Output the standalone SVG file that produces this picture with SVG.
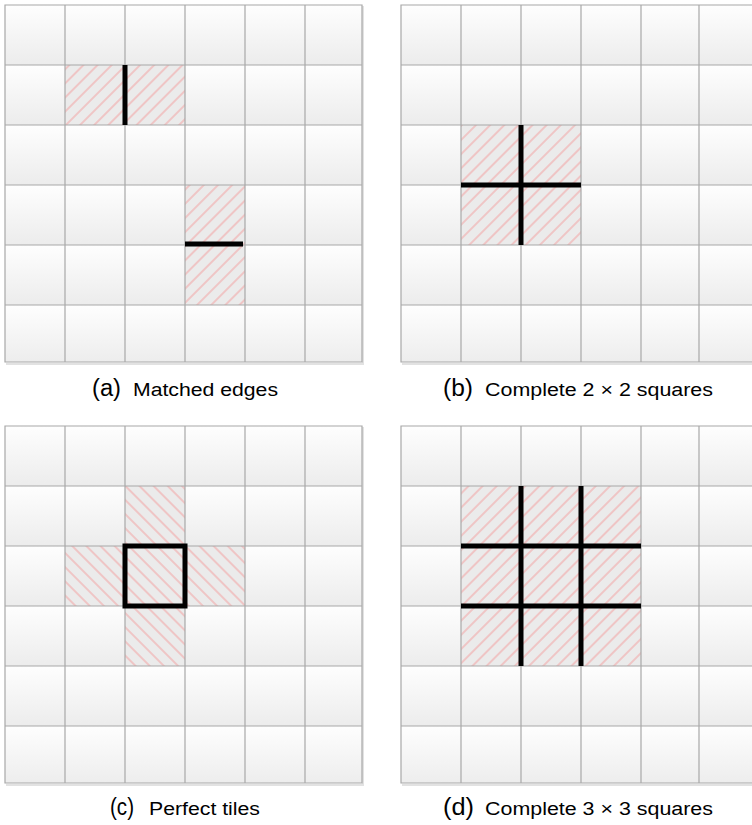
<svg xmlns="http://www.w3.org/2000/svg" width="752" height="825" viewBox="0 0 752 825">
<style>
.grid{fill:none;stroke:#a8a8a8;stroke-width:1.2}
.blk{stroke:#000;stroke-width:5;fill:none}
.lab{font-family:"Liberation Sans",Arial,sans-serif;fill:#000}
.big{font-size:23px}
.sm{font-size:18px}
.hat{fill:url(#hatR)}
.hatL{fill:url(#hatL)}
.shadow{fill:none;stroke:#e2e2e2;stroke-width:2}
</style>
<defs>
<linearGradient id="cg" x1="0" y1="0" x2="0" y2="1">
<stop offset="0" stop-color="#fefefe"/>
<stop offset="1" stop-color="#ececec"/>
</linearGradient>
<pattern id="cellA" patternUnits="userSpaceOnUse" x="5" y="5" width="60" height="60">
<rect width="60" height="60" fill="url(#cg)"/>
</pattern>
<pattern id="cellB" patternUnits="userSpaceOnUse" x="401" y="5" width="60" height="60">
<rect width="60" height="60" fill="url(#cg)"/>
</pattern>
<pattern id="cellC" patternUnits="userSpaceOnUse" x="5" y="426" width="60" height="60">
<rect width="60" height="60" fill="url(#cg)"/>
</pattern>
<pattern id="cellD" patternUnits="userSpaceOnUse" x="401" y="426" width="60" height="60">
<rect width="60" height="60" fill="url(#cg)"/>
</pattern>
<pattern id="hatR" patternUnits="userSpaceOnUse" width="10" height="10" patternTransform="rotate(45)">
<rect width="10" height="10" fill="#ebebeb"/>
<line x1="5" y1="0" x2="5" y2="10" stroke="#f4a0a0" stroke-width="1"/>
</pattern>
<pattern id="hatL" patternUnits="userSpaceOnUse" width="10" height="10" patternTransform="rotate(-45)">
<rect width="10" height="10" fill="#ebebeb"/>
<line x1="5" y1="0" x2="5" y2="10" stroke="#f4a0a0" stroke-width="1"/>
</pattern>
</defs>
<rect width="752" height="825" fill="#fff"/>

<g id="panel-a">
<rect x="5" y="5" width="357" height="357" fill="url(#cellA)"/>
<path class="shadow" d="M6 364H363V6"/>
<rect x="65" y="65" width="120" height="60" class="hat"/>
<rect x="185" y="185" width="60" height="120" class="hat"/>
<path class="grid" d="M5 5H362V362H5Z M65 5V362 M125 5V362 M185 5V362 M245 5V362 M305 5V362 M5 65H362 M5 125H362 M5 185H362 M5 245H362 M5 305H362"/>
<line class="blk" x1="125" y1="65" x2="125" y2="125"/>
<line class="blk" x1="185" y1="244" x2="243" y2="244"/>
<text class="lab big" x="92" y="396" textLength="29" lengthAdjust="spacingAndGlyphs">(a)</text>
<text class="lab sm" x="133" y="396" textLength="145" lengthAdjust="spacingAndGlyphs">Matched edges</text>
</g>

<g id="panel-b">
<rect x="401" y="5" width="352" height="357" fill="url(#cellB)"/>
<path class="shadow" d="M402 364H753"/>
<rect x="461" y="125" width="120" height="120" class="hat"/>
<path class="grid" d="M401 5H753V362H401Z M461 5V362 M521 5V362 M581 5V362 M641 5V362 M699 5V362 M401 65H753 M401 125H753 M401 185H753 M401 245H753 M401 305H753"/>
<line class="blk" x1="521" y1="125" x2="521" y2="245"/>
<line class="blk" x1="461" y1="185" x2="581" y2="185"/>
<text class="lab big" x="443" y="396" textLength="30" lengthAdjust="spacingAndGlyphs">(b)</text>
<text class="lab sm" x="485" y="396" textLength="228" lengthAdjust="spacingAndGlyphs">Complete 2 × 2 squares</text>
</g>

<g id="panel-c">
<rect x="5" y="426" width="357" height="357" fill="url(#cellC)"/>
<path class="shadow" d="M6 785H363V427"/>
<path class="hatL" d="M125 486H185V546H245V606H185V666H125V606H65V546H125Z"/>
<path class="grid" d="M5 426H362V783H5Z M65 426V783 M125 426V783 M185 426V783 M245 426V783 M305 426V783 M5 486H362 M5 546H362 M5 606H362 M5 666H362 M5 726H362"/>
<rect class="blk" x="125" y="546" width="60" height="60"/>
<text class="lab big" x="110" y="815" textLength="24" lengthAdjust="spacingAndGlyphs">(c)</text>
<text class="lab sm" x="149" y="815" textLength="111" lengthAdjust="spacingAndGlyphs">Perfect tiles</text>
</g>

<g id="panel-d">
<rect x="401" y="426" width="352" height="357" fill="url(#cellD)"/>
<path class="shadow" d="M402 785H753"/>
<rect x="461" y="486" width="180" height="180" class="hat"/>
<path class="grid" d="M401 426H753V783H401Z M461 426V783 M521 426V783 M581 426V783 M641 426V783 M699 426V783 M401 486H753 M401 546H753 M401 606H753 M401 666H753 M401 726H753"/>
<line class="blk" x1="521" y1="486" x2="521" y2="666"/>
<line class="blk" x1="581" y1="486" x2="581" y2="666"/>
<line class="blk" x1="461" y1="546" x2="641" y2="546"/>
<line class="blk" x1="461" y1="606" x2="641" y2="606"/>
<text class="lab big" x="443" y="815" textLength="31" lengthAdjust="spacingAndGlyphs">(d)</text>
<text class="lab sm" x="485" y="815" textLength="228" lengthAdjust="spacingAndGlyphs">Complete 3 × 3 squares</text>
</g>
</svg>
